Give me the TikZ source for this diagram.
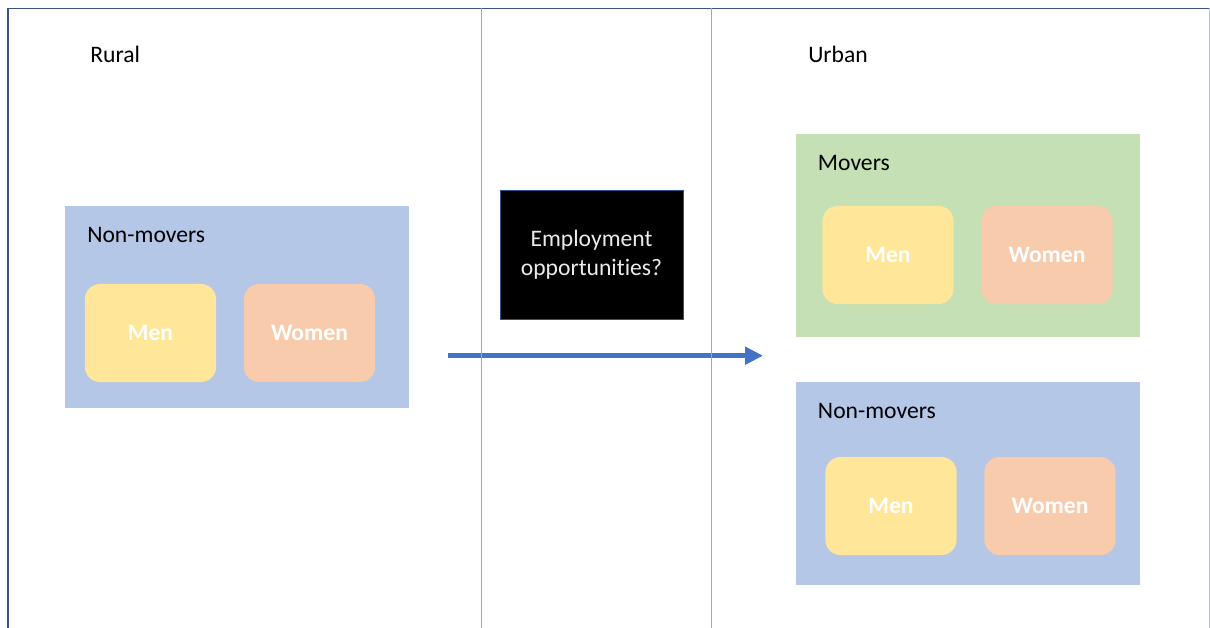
\documentclass[tikz,border=0pt]{standalone}
\usepackage{fontspec}
\setmainfont{Carlito}[RawFeature={-liga;-calt;-clig}]
\usepackage{xcolor}
\usepackage{tikz}
\usetikzlibrary{arrows.meta,positioning}
\definecolor{framedark}{HTML}{3B5283}
\definecolor{framelight}{HTML}{BFC4CC}
\definecolor{divider}{HTML}{8EA9DB}
\definecolor{stayblue}{HTML}{B4C7E7}
\definecolor{movegreen}{HTML}{C5E0B4}
\definecolor{menyellow}{HTML}{FFE699}
\definecolor{womenpeach}{HTML}{F8CBAD}
\definecolor{arrowblue}{HTML}{4472C4}
\definecolor{jobborder}{HTML}{2F528F}

\begin{document}
\begin{tikzpicture}[
  x=0.025cm, y=-0.025cm,
  font=\fontsize{16.8}{20.6}\selectfont,
  group/.style={rectangle,inner sep=0pt,minimum width=8.6cm,minimum height=5.06cm},
  person/.style={rectangle,rounded corners=0.38cm,inner sep=0pt,
    minimum width=3.28cm,minimum height=2.45cm,text=white,font=\fontsize{16.8}{20.6}\selectfont\bfseries},
  grouplabel/.style={anchor=base west,inner sep=0pt},
  jobbox/.style={rectangle,draw=jobborder,line width=0.6pt,fill=black,text=white!92!black,
    align=center,inner sep=0pt,minimum width=4.575cm,minimum height=3.225cm},
  ar/.style={-{Triangle[length=0.45cm,width=0.43cm]},line width=0.14cm,arrowblue}
]
\useasboundingbox (0,0) rectangle (1210,628);

% ==================== FRAME ====================
\draw[framedark, line width=0.8pt] (8,628) -- (8,8.5) -- (1209,8.5);
\draw[framelight, line width=0.6pt] (1209,8.5) -- (1209,628);

% ==================== 1. RURAL ====================
\node[grouplabel] (rural_title) at (90,63) {Rural};

\node[group, fill=stayblue] (rural_stay) at (237,307) {};
\node[grouplabel] (rural_stay_title) at (87,242.3) {Non-movers};
\node[person, fill=menyellow] (rural_men) at (150.5,333) {Men};
\node[person, fill=womenpeach] (rural_women) at (309.5,333) {Women};

% ==================== 2. MIGRATION ====================
\node[jobbox] (job_box) at (591.5,254.5) {Employment\\opportunities?};

\coordinate (move_from) at (448,355.7);
\coordinate (move_to) at (763,355.7);
\draw[ar] (move_from) -- (move_to);

\draw[divider, line width=0.7pt] (481,8.5) -- (481,628);
\draw[divider, line width=0.7pt] (711,8.5) -- (711,628);

% ==================== 3. URBAN ====================
\node[grouplabel] (urban_title) at (808,62.3) {Urban};

\node[group, fill=movegreen] (urban_move) at (968,235.5) {};
\node[grouplabel] (urban_move_title) at (817.7,170.7) {Movers};
\node[person, fill=menyellow] (urban_move_men) at (888,255) {Men};
\node[person, fill=womenpeach] (urban_move_women) at (1047,255) {Women};

\node[group, fill=stayblue] (urban_stay) at (968,483.5) {};
\node[grouplabel] (urban_stay_title) at (817.7,419) {Non-movers};
\node[person, fill=menyellow] (urban_stay_men) at (891,506) {Men};
\node[person, fill=womenpeach] (urban_stay_women) at (1050,506) {Women};

\end{tikzpicture}
\end{document}
